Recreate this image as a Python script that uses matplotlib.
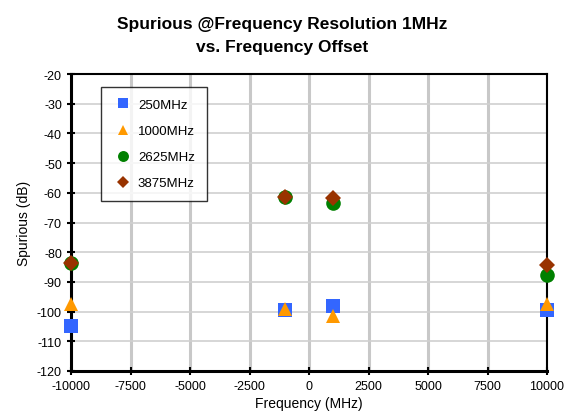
import matplotlib
matplotlib.use("Agg")
import matplotlib.pyplot as plt

plt.rcParams['font.family'] = ['Liberation Sans', 'DejaVu Sans']
plt.rcParams['axes.unicode_minus'] = False

offsets = [-10000, -1000, 1000, 10000]
s250 = [-105, -99.5, -98, -99.5]
s1000 = [-97.5, -99, -101.5, -97.5]
s2625 = [-83.8, -61.5, -63.3, -87.8]
s3875 = [-83.8, -61.5, -61.8, -84.2]

series = [
    ("250MHz", s250, "s", "#3366ff", 10),
    ("1000MHz", s1000, "^", "#ff9900", 10),
    ("2625MHz", s2625, "o", "#008000", 10.5),
    ("3875MHz", s3875, "D", "#993300", 8),
]

fig = plt.figure(figsize=(5.64, 4.14), dpi=100)
ax = fig.add_axes([71/564, 1 - 372/414, 476/564, 297/414])

for name, vals, mk, col, ms in series:
    ax.plot(offsets, vals, linestyle="none", marker=mk, color=col,
            markersize=ms, markeredgewidth=0, label=name, clip_on=False, zorder=3)

ax.set_xlim(-10000, 10000)
ax.set_ylim(-120, -20)
ax.set_xticks(range(-10000, 10001, 2500))
ax.set_yticks(range(-120, -19, 10))
ax.xaxis.grid(True, color="#c8c8c8", linewidth=2.2)
ax.yaxis.grid(True, color="#d0d0d0", linewidth=1.2)
ax.set_axisbelow(True)

for side in ["left", "bottom"]:
    ax.spines[side].set_linewidth(2.2)
for side in ["top", "right"]:
    ax.spines[side].set_linewidth(1.5)
ax.tick_params(direction="inout", length=6, width=1.5, labelsize=9)

ax.set_xlabel("Frequency (MHz)", fontsize=10, labelpad=3)
ax.set_ylabel("Spurious (dB)", fontsize=10, labelpad=4)
fig.suptitle("Spurious @Frequency Resolution 1MHz\nvs. Frequency Offset",
             fontsize=12.5, fontweight="bold", y=0.96, linespacing=1.7)

leg = ax.legend(loc="upper left", bbox_to_anchor=(30/476, 1 - 13/297),
                fontsize=9.5, frameon=True, fancybox=False, handletextpad=0.3,
                labelspacing=1.05, borderpad=0.9, markerscale=0.75,
                handlelength=1.6, borderaxespad=0)
leg.get_frame().set_edgecolor("black")
leg.get_frame().set_linewidth(1.0)

fig.savefig("out.png", dpi=100)
